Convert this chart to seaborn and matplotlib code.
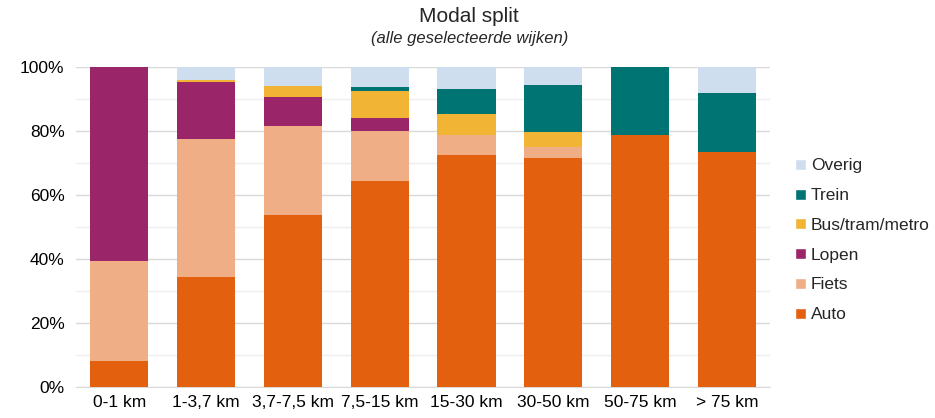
import numpy as np
import pandas as pd
import matplotlib
matplotlib.use("Agg")
import matplotlib.pyplot as plt
import seaborn as sns
from matplotlib.patches import Patch
from matplotlib.ticker import MultipleLocator, PercentFormatter

# ── Data ──────────────────────────────────────────────────────────────────────
categories = ["0-1 km", "1-3,7 km", "3,7-7,5 km", "7,5-15 km",
              "15-30 km", "30-50 km", "50-75 km", "> 75 km"]
modes = ["Auto", "Fiets", "Lopen", "Bus/tram/metro", "Trein", "Overig"]

auto = [8.2, 34.3, 53.8, 64.4, 72.5, 71.7, 78.7, 73.4]
fiets = [31.3, 43.4, 27.9, 15.8, 6.2, 3.4, 0.0, 0.0]
lopen = [60.5, 17.8, 9.0, 3.8, 0.0, 0.0, 0.0, 0.0]
bus = [0.0, 0.6, 3.5, 8.5, 6.8, 4.6, 0.0, 0.0]
trein = [0.0, 0.0, 0.0, 1.4, 7.7, 14.8, 21.3, 18.5]
overig = [0.0, 3.9, 5.8, 6.1, 6.8, 5.5, 0.0, 8.1]

colors = ["#E3600F", "#F0AE87", "#9B2569", "#F1B434", "#007373", "#CEDEEE"]

df = pd.DataFrame({"Auto": auto, "Fiets": fiets, "Lopen": lopen,
                   "Bus/tram/metro": bus, "Trein": trein, "Overig": overig},
                  index=categories)
cum = df.cumsum(axis=1)

# ── Plot ──────────────────────────────────────────────────────────────────────
sns.set_style("white")
plt.rcParams["font.family"] = ["Liberation Sans", "DejaVu Sans"]

fig = plt.figure(figsize=(9.35, 4.18), dpi=100)
ax = fig.add_axes([0.081, 0.074, 0.743, 0.765])

# draw cumulative totals from the top layer down so each layer shows
for mode, color in reversed(list(zip(modes, colors))):
    sns.barplot(x=categories, y=cum[mode].values, color=color, width=0.67,
                saturation=1, linewidth=0, ax=ax, zorder=3)

ax.set_ylim(0, 100)
ax.yaxis.set_major_locator(MultipleLocator(20))
ax.yaxis.set_minor_locator(MultipleLocator(10))
ax.yaxis.set_major_formatter(PercentFormatter(decimals=0))
ax.grid(axis="y", which="major", color="#D9D9D9", lw=1, zorder=0)
ax.grid(axis="y", which="minor", color="#EFEFEF", lw=1, zorder=0)
ax.set_axisbelow(True)
for s in ["left", "right", "top"]:
    ax.spines[s].set_visible(False)
ax.spines["bottom"].set_color("#D9D9D9")
ax.tick_params(axis="both", length=0, labelsize=12.5, colors="#000000")
ax.tick_params(axis="y", pad=8)
ax.tick_params(axis="x", pad=6)
ax.set_xlim(-0.5, len(categories) - 0.5)

fig.text(0.502, 0.948, "Modal split", ha="center", fontsize=15)
fig.text(0.502, 0.898, "(alle geselecteerde wijken)", ha="center",
         fontsize=12, style="italic")

handles = [Patch(facecolor=c, label=m) for m, c in zip(modes, colors)][::-1]
fig.legend(handles=handles, loc="center left", bbox_to_anchor=(0.843, 0.425),
           frameon=False, fontsize=12.5, handlelength=0.6, handleheight=0.6,
           handletextpad=0.3, labelspacing=0.85, borderaxespad=0)

plt.savefig("out.png", dpi=100)
plt.close()
